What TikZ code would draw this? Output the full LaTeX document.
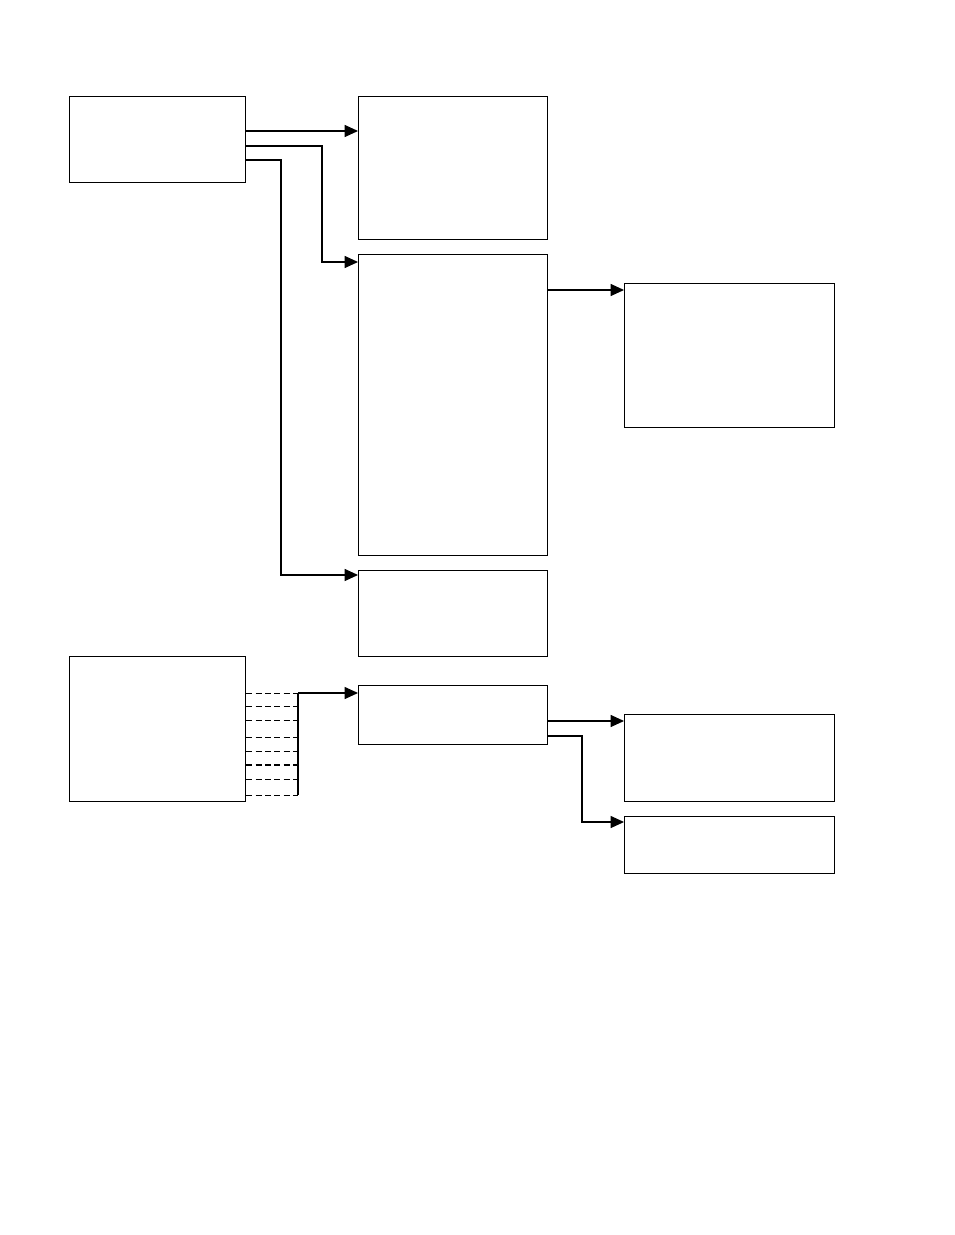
\documentclass[tikz,border=0pt]{standalone}
\usetikzlibrary{arrows.meta}
\tikzset{sc/.style={x=.75pt,y=-.75pt,line width=.8pt},
  blk/.style={draw,rectangle,anchor=north west,inner sep=0pt,line width=1pt},
  link/.style={-{Triangle[length=10pt,width=9pt]}},
  tick/.style={line width=.6pt,dash pattern=on 4.5pt off 2.5pt}}

\begin{document}
\begin{tikzpicture}[sc]
  \useasboundingbox (0,0) rectangle (954,1235);
  % upper group
  \node[blk,minimum width=176*.75pt,minimum height=86*.75pt] (src) at (69,96) {};
  \node[blk,minimum width=189*.75pt,minimum height=143*.75pt] (top) at (358,96) {};
  \node[blk,minimum width=189*.75pt,minimum height=301*.75pt] (core) at (358,254) {};
  \node[blk,minimum width=210*.75pt,minimum height=144*.75pt] (side) at (624,283) {};
  \node[blk,minimum width=189*.75pt,minimum height=86*.75pt] (low) at (358,570) {};
  \draw[link] (src.east |- 0,131) -- (top.west |- 0,131);
  \draw[link] (src.east |- 0,146) -| (322,262) -- (core.west |- 0,262);
  \draw[link] (src.east |- 0,160) -| (281,575) -- (low.west |- 0,575);
  \draw[link] (core.east |- 0,290) -- (side.west |- 0,290);
  % lower group
  \node[blk,minimum width=176*.75pt,minimum height=145*.75pt] (bus) at (69,656) {};
  \node[blk,minimum width=189*.75pt,minimum height=59*.75pt] (hub) at (358,685) {};
  \node[blk,minimum width=210*.75pt,minimum height=87*.75pt] (outa) at (624,714) {};
  \node[blk,minimum width=210*.75pt,minimum height=57*.75pt] (outb) at (624,816) {};
  \coordinate (join) at (298,693);
  \foreach \y in {693,706,720,737,751,779,795}{\draw[tick] (bus.east |- 0,\y) -- (298,\y);}
  \draw[tick,line width=1.2pt] (bus.east |- 0,765) -- (298,765);
  \draw (join) -- (298,795);
  \draw[link] (join) -- (hub.west |- join);
  \draw[link] (hub.east |- 0,721) -- (outa.west |- 0,721);
  \draw[link] (hub.east |- 0,736) -| (582,822) -- (outb.west |- 0,822);
\end{tikzpicture}
\end{document}
